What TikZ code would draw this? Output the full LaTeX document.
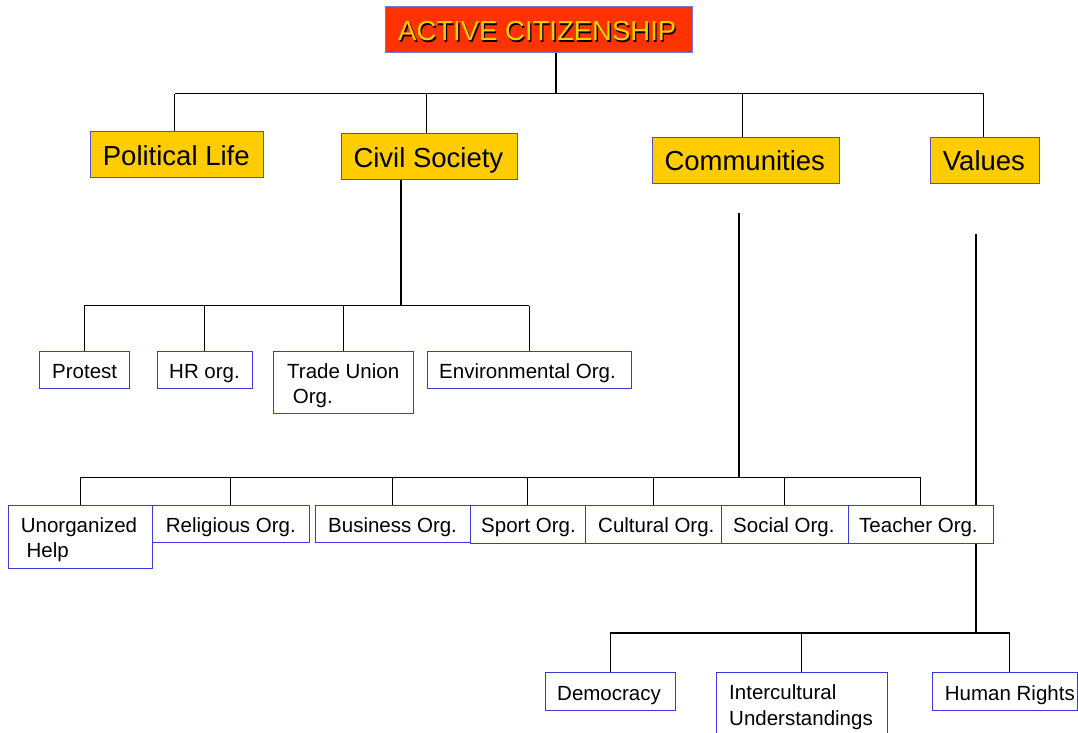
\documentclass[tikz,border=0pt]{standalone}
\usepackage{fontspec}
\setmainfont{Liberation Sans}
\usetikzlibrary{backgrounds}
\definecolor{titlered}{HTML}{FF3300}
\definecolor{gold}{HTML}{FFCC00}
\definecolor{bordlight}{HTML}{7878DC}
\definecolor{bordmid}{HTML}{5050CC}
\definecolor{bordblue}{HTML}{3A3AD4}
\newcommand{\bigtxt}{\fontsize{27.5}{33}\selectfont}
\newcommand{\smtxt}{\fontsize{20.5}{25.5}\selectfont}
\newcommand{\shadowtxt}[1]{\makebox[0pt][l]{\hspace{1.3pt}\raisebox{-1.3pt}{\textcolor{black}{#1}}}#1}
\begin{document}
\begin{tikzpicture}[x=1pt,y=-1pt,
  tbox/.style={draw=bordmid, line width=1.2pt, fill=gold, inner sep=0pt, anchor=north west},
  sbox/.style={draw=bordblue, line width=0.9pt, fill=white, inner sep=0pt, anchor=north west},
  btxt/.style={inner sep=0pt, anchor=base west, font=\bigtxt},
  stxt/.style={inner sep=0pt, anchor=base west, font=\smtxt, align=left},
  stem/.style={draw=black, line width=1.8pt},
  hline/.style={draw=black, line width=1.3pt},
  drop/.style={draw=black, line width=1pt}]
\useasboundingbox (0,0) rectangle (1078,732);
% title
\node[tbox, draw=bordlight, fill=titlered, minimum width=307pt, minimum height=46pt] (title) at (385,6) {};
\node[btxt, text=gold] (title-t) at ([shift={(13,34.7)}]title.north west) {\shadowtxt{ACTIVE CITIZENSHIP}};
% level 1
\node[tbox, minimum width=173pt, minimum height=46pt] (pol) at (90,131) {};
\node[btxt] (pol-t) at ([shift={(12.7,34)}]pol.north west) {Political Life};
\node[tbox, minimum width=176pt, minimum height=46pt] (civ) at (341,133) {};
\node[btxt] (civ-t) at ([shift={(12.3,34)}]civ.north west) {Civil Society};
\node[tbox, minimum width=187pt, minimum height=46pt] (com) at (652,137) {};
\node[btxt] (com-t) at ([shift={(12.3,33.7)}]com.north west) {Communities};
\node[tbox, minimum width=109pt, minimum height=46pt] (val) at (930,137) {};
\node[btxt] (val-t) at ([shift={(12.7,33.7)}]val.north west) {Values};
% civil society row
\node[sbox, minimum width=90pt, minimum height=37pt] (protest) at (39,351) {};
\node[stxt] (protest-t) at ([shift={(13,27)}]protest.north west) {Protest};
\node[sbox, minimum width=95pt, minimum height=37pt] (hr) at (157,351) {};
\node[stxt] (hr-t) at ([shift={(12,27)}]hr.north west) {HR org.};
\node[sbox, minimum width=140pt, minimum height=62pt] (trade) at (273,351) {};
\node[stxt] (trade-t) at ([shift={(14,52.5)}]trade.north west) {Trade Union\\\hspace*{5.7pt}Org.};
\node[sbox, minimum width=204pt, minimum height=37pt] (env) at (427,351) {};
\node[stxt] (env-t) at ([shift={(12,27)}]env.north west) {Environmental Org.};
% communities row
\node[sbox, minimum width=144pt, minimum height=63pt] (unorg) at (8,505) {};
\node[stxt] (unorg-t) at ([shift={(12.7,52.5)}]unorg.north west) {Unorganized\\\hspace*{5.7pt}Help};
\node[sbox, minimum width=157pt, minimum height=37pt] (relig) at (152,505) {};
\node[stxt] (relig-t) at ([shift={(13.7,27)}]relig.north west) {Religious Org.};
\node[sbox, minimum width=155pt, minimum height=37pt] (busi) at (315,505) {};
\node[stxt] (busi-t) at ([shift={(13,27)}]busi.north west) {Business Org.};
\node[sbox, minimum width=115pt, minimum height=38pt] (sport) at (470,505) {};
\node[stxt] (sport-t) at ([shift={(11,27)}]sport.north west) {Sport Org.};
\node[sbox, minimum width=136pt, minimum height=38pt] (cult) at (585,505) {};
\node[stxt] (cult-t) at ([shift={(13,27)}]cult.north west) {Cultural Org.};
\node[sbox, minimum width=127pt, minimum height=38pt] (social) at (721,505) {};
\node[stxt] (social-t) at ([shift={(12,27)}]social.north west) {Social Org.};
\node[sbox, minimum width=145pt, minimum height=38pt] (teacher) at (848,505) {};
\node[stxt] (teacher-t) at ([shift={(11,27)}]teacher.north west) {Teacher Org.};
% values row
\node[sbox, minimum width=130pt, minimum height=38pt] (demo) at (545,672) {};
\node[stxt] (demo-t) at ([shift={(12,28)}]demo.north west) {Democracy};
\node[sbox, minimum width=171pt, minimum height=75pt] (inter) at (716,672) {};
\node[stxt] (inter-t) at ([shift={(13,53)}]inter.north west) {Intercultural\\Understandings};
\node[sbox, minimum width=145pt, minimum height=38pt] (human) at (932,672) {};
\node[stxt] (human-t) at ([shift={(12.7,28)}]human.north west) {Human Rights};
% connectors
\begin{pgfonlayer}{background}
\coordinate (tj) at (555.7,93.5);
\coordinate (pd) at ([xshift=-2.5pt]pol.north);
\coordinate (cd) at ([xshift=-3pt]civ.north);
\coordinate (md) at ([xshift=-3.5pt]com.north);
\coordinate (vd) at ([xshift=-1.5pt]val.north);
\draw[stem] (title.south -| tj) -- (tj);
\draw[hline] (pd |- tj) -- (vd |- tj);
\foreach \c in {pd,cd,md,vd} \draw[drop] (\c) -- (\c |- tj);
% civil society
\coordinate (cs) at ([xshift=-29pt]civ.south);
\coordinate (cj) at (400,305.5);
\draw[stem] (cs) -- (cs |- cj);
\draw[hline] (protest.north |- cj) -- (env.north |- cj);
\foreach \n in {protest,hr,trade,env} \draw[drop] (\n.north) -- (\n.north |- cj);
% communities
\coordinate (mtop) at (739,213);
\coordinate (mj) at (739,477.5);
\draw[stem] (mtop) -- (mj);
\draw[hline] (unorg.north |- mj) -- (teacher.north |- mj);
\foreach \n in {unorg,relig,busi,sport,cult,social,teacher} \draw[drop] (\n.north) -- (\n.north |- mj);
% values
\coordinate (vtop) at (976,234);
\coordinate (vj) at (976,633);
\coordinate (hd) at ([xshift=5pt]human.north);
\draw[stem] (vtop) -- (vj);
\draw[hline] (demo.north |- vj) -- (hd |- vj);
\foreach \c in {demo.north,inter.north,hd} \draw[drop] (\c) -- (\c |- vj);
\end{pgfonlayer}
\end{tikzpicture}
\end{document}
